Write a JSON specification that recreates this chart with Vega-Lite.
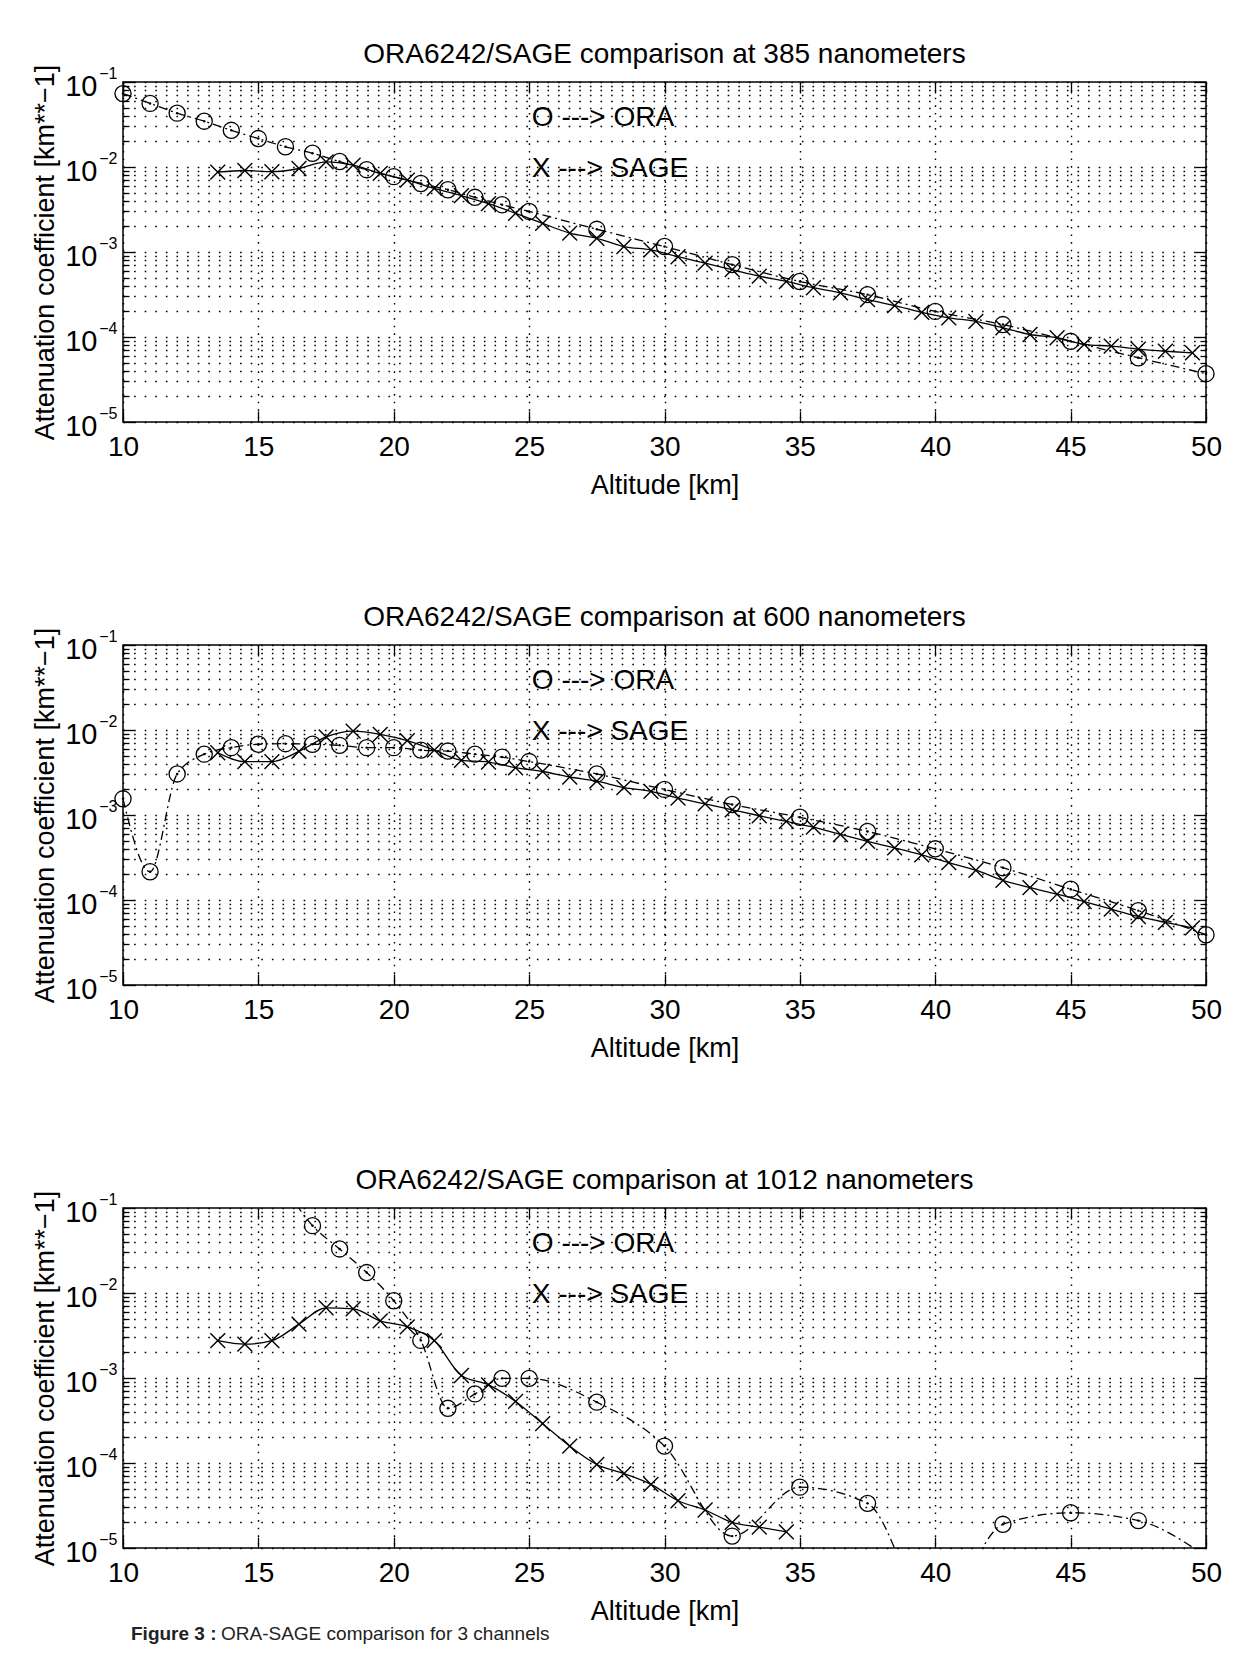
{
  "$schema": "https://vega.github.io/schema/vega-lite/v6.json",
  "background": "white",
  "padding": {"left": 30, "top": 40, "right": 10, "bottom": 5},
  "config": {
    "font": "Liberation Sans",
    "view": {"stroke": "black", "strokeWidth": 1.5},
    "axis": {"labelFont": "Liberation Sans", "titleFont": "Liberation Sans"}
  },
  "datasets": {
    "ora": [
      {"wl":385,"alt":10,"k":0.073},{"wl":385,"alt":11,"k":0.056},{"wl":385,"alt":12,"k":0.043},{"wl":385,"alt":13,"k":0.0346},{"wl":385,"alt":14,"k":0.027},{"wl":385,"alt":15,"k":0.0216},{"wl":385,"alt":16,"k":0.0173},{"wl":385,"alt":17,"k":0.0145},{"wl":385,"alt":18,"k":0.0116},{"wl":385,"alt":19,"k":0.0093},{"wl":385,"alt":20,"k":0.0077},{"wl":385,"alt":21,"k":0.0064},{"wl":385,"alt":22,"k":0.0054},{"wl":385,"alt":23,"k":0.0044},{"wl":385,"alt":24,"k":0.0036},{"wl":385,"alt":25,"k":0.003},{"wl":385,"alt":27.5,"k":0.00185},{"wl":385,"alt":30,"k":0.00116},{"wl":385,"alt":32.5,"k":0.00071},{"wl":385,"alt":35,"k":0.00045},{"wl":385,"alt":37.5,"k":0.000315},{"wl":385,"alt":40,"k":0.0002},{"wl":385,"alt":42.5,"k":0.00014},{"wl":385,"alt":45,"k":0.000089},{"wl":385,"alt":47.5,"k":0.000057},{"wl":385,"alt":50,"k":0.000037},
      {"wl":600,"alt":10,"k":0.00155},{"wl":600,"alt":11,"k":0.000215},{"wl":600,"alt":12,"k":0.00304},{"wl":600,"alt":13,"k":0.0052},{"wl":600,"alt":14,"k":0.0062},{"wl":600,"alt":15,"k":0.0068},{"wl":600,"alt":16,"k":0.0069},{"wl":600,"alt":17,"k":0.0068},{"wl":600,"alt":18,"k":0.0066},{"wl":600,"alt":19,"k":0.0062},{"wl":600,"alt":20,"k":0.0062},{"wl":600,"alt":21,"k":0.0058},{"wl":600,"alt":22,"k":0.00565},{"wl":600,"alt":23,"k":0.0052},{"wl":600,"alt":24,"k":0.0048},{"wl":600,"alt":25,"k":0.00425},{"wl":600,"alt":27.5,"k":0.00304},{"wl":600,"alt":30,"k":0.002},{"wl":600,"alt":32.5,"k":0.00133},{"wl":600,"alt":35,"k":0.00094},{"wl":600,"alt":37.5,"k":0.00064},{"wl":600,"alt":40,"k":0.0004},{"wl":600,"alt":42.5,"k":0.00024},{"wl":600,"alt":45,"k":0.000134},{"wl":600,"alt":47.5,"k":0.000075},{"wl":600,"alt":50,"k":0.000039},
      {"wl":1012,"alt":16,"k":0.17},{"wl":1012,"alt":17,"k":0.062},{"wl":1012,"alt":18,"k":0.033},{"wl":1012,"alt":19,"k":0.0174},{"wl":1012,"alt":20,"k":0.0081},{"wl":1012,"alt":21,"k":0.00277},{"wl":1012,"alt":22,"k":0.00044},{"wl":1012,"alt":23,"k":0.00065},{"wl":1012,"alt":24,"k":0.00099},{"wl":1012,"alt":25,"k":0.00099},{"wl":1012,"alt":27.5,"k":0.00052},{"wl":1012,"alt":30,"k":0.000158},{"wl":1012,"alt":32.5,"k":0.0000138},{"wl":1012,"alt":35,"k":0.000052},{"wl":1012,"alt":37.5,"k":0.0000335},{"wl":1012,"alt":40,"k":0.0000015},{"wl":1012,"alt":42.5,"k":0.000019},{"wl":1012,"alt":45,"k":0.000026},{"wl":1012,"alt":47.5,"k":0.000021},{"wl":1012,"alt":50,"k":0.000008}
    ],
    "sage": [
      {"wl":385,"alt":13.5,"k":0.0087},{"wl":385,"alt":14.5,"k":0.0091},{"wl":385,"alt":15.5,"k":0.0088},{"wl":385,"alt":16.5,"k":0.0096},{"wl":385,"alt":17.5,"k":0.0115},{"wl":385,"alt":18.5,"k":0.0105},{"wl":385,"alt":19.5,"k":0.0084},{"wl":385,"alt":20.5,"k":0.007},{"wl":385,"alt":21.5,"k":0.0056},{"wl":385,"alt":22.5,"k":0.0046},{"wl":385,"alt":23.5,"k":0.0037},{"wl":385,"alt":24.5,"k":0.00285},{"wl":385,"alt":25.5,"k":0.00217},{"wl":385,"alt":26.5,"k":0.00167},{"wl":385,"alt":27.5,"k":0.00145},{"wl":385,"alt":28.5,"k":0.00116},{"wl":385,"alt":29.5,"k":0.00106},{"wl":385,"alt":30.5,"k":0.00088},{"wl":385,"alt":31.5,"k":0.00074},{"wl":385,"alt":32.5,"k":0.00062},{"wl":385,"alt":33.5,"k":0.00052},{"wl":385,"alt":34.5,"k":0.00045},{"wl":385,"alt":35.5,"k":0.00038},{"wl":385,"alt":36.5,"k":0.00033},{"wl":385,"alt":37.5,"k":0.000275},{"wl":385,"alt":38.5,"k":0.000234},{"wl":385,"alt":39.5,"k":0.000195},{"wl":385,"alt":40.5,"k":0.000168},{"wl":385,"alt":41.5,"k":0.000153},{"wl":385,"alt":42.5,"k":0.000128},{"wl":385,"alt":43.5,"k":0.000107},{"wl":385,"alt":44.5,"k":0.000098},{"wl":385,"alt":45.5,"k":0.000082},{"wl":385,"alt":46.5,"k":0.000078},{"wl":385,"alt":47.5,"k":0.000072},{"wl":385,"alt":48.5,"k":0.000068},{"wl":385,"alt":49.5,"k":0.000065},
      {"wl":600,"alt":13.5,"k":0.0054},{"wl":600,"alt":14.5,"k":0.00425},{"wl":600,"alt":15.5,"k":0.00425},{"wl":600,"alt":16.5,"k":0.0056},{"wl":600,"alt":17.5,"k":0.0083},{"wl":600,"alt":18.5,"k":0.0097},{"wl":600,"alt":19.5,"k":0.0089},{"wl":600,"alt":20.5,"k":0.0075},{"wl":600,"alt":21.5,"k":0.0058},{"wl":600,"alt":22.5,"k":0.0044},{"wl":600,"alt":23.5,"k":0.0042},{"wl":600,"alt":24.5,"k":0.0036},{"wl":600,"alt":25.5,"k":0.00325},{"wl":600,"alt":26.5,"k":0.0028},{"wl":600,"alt":27.5,"k":0.0025},{"wl":600,"alt":28.5,"k":0.0021},{"wl":600,"alt":29.5,"k":0.0019},{"wl":600,"alt":30.5,"k":0.00158},{"wl":600,"alt":31.5,"k":0.00135},{"wl":600,"alt":32.5,"k":0.00115},{"wl":600,"alt":33.5,"k":0.00098},{"wl":600,"alt":34.5,"k":0.00084},{"wl":600,"alt":35.5,"k":0.00072},{"wl":600,"alt":36.5,"k":0.00059},{"wl":600,"alt":37.5,"k":0.00049},{"wl":600,"alt":38.5,"k":0.00041},{"wl":600,"alt":39.5,"k":0.00034},{"wl":600,"alt":40.5,"k":0.000275},{"wl":600,"alt":41.5,"k":0.000224},{"wl":600,"alt":42.5,"k":0.00017},{"wl":600,"alt":43.5,"k":0.00014},{"wl":600,"alt":44.5,"k":0.000117},{"wl":600,"alt":45.5,"k":0.000096},{"wl":600,"alt":46.5,"k":0.000078},{"wl":600,"alt":47.5,"k":0.000064},{"wl":600,"alt":48.5,"k":0.0000545},{"wl":600,"alt":49.5,"k":0.000047},
      {"wl":1012,"alt":13.5,"k":0.00275},{"wl":1012,"alt":14.5,"k":0.0025},{"wl":1012,"alt":15.5,"k":0.00275},{"wl":1012,"alt":16.5,"k":0.0043},{"wl":1012,"alt":17.5,"k":0.0067},{"wl":1012,"alt":18.5,"k":0.0065},{"wl":1012,"alt":19.5,"k":0.0047},{"wl":1012,"alt":20.5,"k":0.004},{"wl":1012,"alt":21.5,"k":0.00275},{"wl":1012,"alt":22.5,"k":0.00107},{"wl":1012,"alt":23.5,"k":0.00083},{"wl":1012,"alt":24.5,"k":0.00053},{"wl":1012,"alt":25.5,"k":0.00029},{"wl":1012,"alt":26.5,"k":0.000158},{"wl":1012,"alt":27.5,"k":0.000096},{"wl":1012,"alt":28.5,"k":0.000075},{"wl":1012,"alt":29.5,"k":0.000056},{"wl":1012,"alt":30.5,"k":0.000036},{"wl":1012,"alt":31.5,"k":0.000028},{"wl":1012,"alt":32.5,"k":0.00002},{"wl":1012,"alt":33.5,"k":0.0000176},{"wl":1012,"alt":34.5,"k":0.0000155}
    ]
  },
  "vconcat": [
    {
      "spacing": 104,
      "vconcat": [
        {
          "title": {"text": "ORA6242/SAGE comparison at 385 nanometers", "fontSize": 28, "fontWeight": "normal", "color": "black", "frame": "group", "offset": -5},
          "width": 1083, "height": 340,
          "resolve": {"axis": {"x": "independent", "y": "independent"}},
          "layer": [
            {"data": {"name": "ora"}, "transform": [{"filter": "datum.wl == 385"}],
             "mark": {"type": "line", "interpolate": "monotone", "color": "black", "strokeWidth": 1.3, "strokeDash": [9, 4, 2, 4], "clip": true},
             "encoding": {
               "x": {"field": "alt", "type": "quantitative", "scale": {"domain": [10, 50], "nice": false, "zero": false},
                     "axis": {"orient": "bottom", "values": [10,15,20,25,30,35,40,45,50], "title": "Altitude [km]", "titleFontSize": 27, "titleFontWeight": "normal", "titleColor": "black", "titlePadding": 11, "labelFontSize": 28, "labelColor": "black", "labelPadding": 11, "labelFlush": false, "labelOverlap": false, "ticks": false, "domain": false, "grid": true, "gridColor": "black", "gridDash": [1.6, 6], "gridWidth": 1.4, "gridOpacity": 1}},
               "y": {"field": "k", "type": "quantitative", "scale": {"type": "log", "domain": [0.00001, 0.1], "nice": false},
                     "axis": {"orient": "left", "values": [0.00001, 0.0001, 0.001, 0.01, 0.1], "labelExpr": "'10'", "title": "Attenuation coefficient [km**−1]", "titleFontSize": 27, "titleFontWeight": "normal", "titleColor": "black", "titlePadding": 5, "labelFontSize": 29, "labelColor": "black", "labelPadding": 26, "labelOffset": 4, "labelOverlap": false, "ticks": false, "domain": false, "grid": true, "gridColor": "black", "gridDash": [1.6, 9], "gridWidth": 1.4, "gridOpacity": 1}}
             }},
            {"data": {"name": "ora"}, "transform": [{"filter": "datum.wl == 385 && datum.k >= 0.00001 && datum.k <= 0.1"}],
             "mark": {"type": "point", "shape": "circle", "filled": false, "size": 260, "strokeWidth": 1.3, "color": "black", "opacity": 1, "clip": false},
             "encoding": {
               "x": {"field": "alt", "type": "quantitative", "axis": {"orient": "top", "values": [10,15,20,25,30,35,40,45,50], "labels": false, "title": null, "grid": false, "domain": false, "ticks": true, "tickSize": -11, "tickColor": "black", "tickWidth": 1.3}},
               "y": {"field": "k", "type": "quantitative", "axis": {"orient": "left", "values": [0.00002,0.00003,0.00004,0.00005,0.00006,0.00007,0.00008,0.00009,0.0002,0.0003,0.0004,0.0005,0.0006,0.0007,0.0008,0.0009,0.002,0.003,0.004,0.005,0.006,0.007,0.008,0.009,0.02,0.03,0.04,0.05,0.06,0.07,0.08,0.09], "labels": false, "title": null, "domain": false, "grid": true, "gridColor": "black", "gridDash": [1.6, 9], "gridWidth": 1.4, "gridOpacity": 1, "ticks": true, "tickSize": -6, "tickColor": "black", "tickWidth": 1.3}}
             }},
            {"data": {"name": "ora"}, "transform": [{"filter": "datum.wl == 385 && datum.k >= 0.00001 && datum.k <= 0.1"}],
             "mark": {"type": "point", "shape": "circle", "filled": true, "size": 6, "color": "black", "opacity": 1, "clip": false},
             "encoding": {
               "x": {"field": "alt", "type": "quantitative", "axis": {"orient": "bottom", "values": [10,15,20,25,30,35,40,45,50], "labels": false, "title": null, "grid": false, "domain": false, "ticks": true, "tickSize": -11, "tickColor": "black", "tickWidth": 1.3}},
               "y": {"field": "k", "type": "quantitative", "axis": {"orient": "left", "values": [0.00001, 0.0001, 0.001, 0.01, 0.1], "labelExpr": "'−' + round(-log(datum.value)/LN10)", "labelFontSize": 16, "labelColor": "black", "labelPadding": 6, "labelOffset": -9, "labelOverlap": false, "ticks": false, "grid": false, "domain": false, "title": null}}
             }},
            {"data": {"name": "sage"}, "transform": [{"filter": "datum.wl == 385"}],
             "mark": {"type": "line", "interpolate": "monotone", "color": "black", "strokeWidth": 1.3, "clip": true},
             "encoding": {
               "x": {"field": "alt", "type": "quantitative", "axis": null},
               "y": {"field": "k", "type": "quantitative", "axis": {"orient": "right", "values": [0.00001, 0.0001, 0.001, 0.01, 0.1], "labels": false, "title": null, "grid": false, "domain": false, "ticks": true, "tickSize": -11, "tickColor": "black", "tickWidth": 1.3}}
             }},
            {"data": {"name": "sage"}, "transform": [{"filter": "datum.wl == 385"}],
             "mark": {"type": "point", "shape": "M-1,-1L1,1M-1,1L1,-1", "filled": false, "size": 220, "strokeWidth": 1.4, "color": "black", "opacity": 1, "clip": true},
             "encoding": {
               "x": {"field": "alt", "type": "quantitative", "axis": null},
               "y": {"field": "k", "type": "quantitative", "axis": {"orient": "right", "values": [0.00002,0.00003,0.00004,0.00005,0.00006,0.00007,0.00008,0.00009,0.0002,0.0003,0.0004,0.0005,0.0006,0.0007,0.0008,0.0009,0.002,0.003,0.004,0.005,0.006,0.007,0.008,0.009,0.02,0.03,0.04,0.05,0.06,0.07,0.08,0.09], "labels": false, "title": null, "grid": false, "domain": false, "ticks": true, "tickSize": -6, "tickColor": "black", "tickWidth": 1.3}}
             }},
            {"data": {"values": [{}]},
             "mark": {"type": "text", "text": "O ---> ORA", "align": "left", "baseline": "middle", "fontSize": 28, "color": "black"},
             "encoding": {
               "x": {"datum": 25.1, "type": "quantitative", "axis": null},
               "y": {"datum": 0.038, "type": "quantitative", "axis": {"orient": "left", "values": [0.00001, 0.0001, 0.001, 0.01, 0.1], "labels": false, "title": null, "grid": false, "domain": false, "ticks": true, "tickSize": -11, "tickColor": "black", "tickWidth": 1.3}}
             }},
            {"data": {"values": [{}]},
             "mark": {"type": "text", "text": "X ---> SAGE", "align": "left", "baseline": "middle", "fontSize": 28, "color": "black"},
             "encoding": {
               "x": {"datum": 25.1, "type": "quantitative", "axis": null},
               "y": {"datum": 0.0095, "type": "quantitative", "axis": null}
             }}
          ]
        },
        {
          "title": {"text": "ORA6242/SAGE comparison at 600 nanometers", "fontSize": 28, "fontWeight": "normal", "color": "black", "frame": "group", "offset": -5},
          "width": 1083, "height": 340,
          "resolve": {"axis": {"x": "independent", "y": "independent"}},
          "layer": [
            {"data": {"name": "ora"}, "transform": [{"filter": "datum.wl == 600"}],
             "mark": {"type": "line", "interpolate": "monotone", "color": "black", "strokeWidth": 1.3, "strokeDash": [9, 4, 2, 4], "clip": true},
             "encoding": {
               "x": {"field": "alt", "type": "quantitative", "scale": {"domain": [10, 50], "nice": false, "zero": false},
                     "axis": {"orient": "bottom", "values": [10,15,20,25,30,35,40,45,50], "title": "Altitude [km]", "titleFontSize": 27, "titleFontWeight": "normal", "titleColor": "black", "titlePadding": 11, "labelFontSize": 28, "labelColor": "black", "labelPadding": 11, "labelFlush": false, "labelOverlap": false, "ticks": false, "domain": false, "grid": true, "gridColor": "black", "gridDash": [1.6, 6], "gridWidth": 1.4, "gridOpacity": 1}},
               "y": {"field": "k", "type": "quantitative", "scale": {"type": "log", "domain": [0.00001, 0.1], "nice": false},
                     "axis": {"orient": "left", "values": [0.00001, 0.0001, 0.001, 0.01, 0.1], "labelExpr": "'10'", "title": "Attenuation coefficient [km**−1]", "titleFontSize": 27, "titleFontWeight": "normal", "titleColor": "black", "titlePadding": 5, "labelFontSize": 29, "labelColor": "black", "labelPadding": 26, "labelOffset": 4, "labelOverlap": false, "ticks": false, "domain": false, "grid": true, "gridColor": "black", "gridDash": [1.6, 9], "gridWidth": 1.4, "gridOpacity": 1}}
             }},
            {"data": {"name": "ora"}, "transform": [{"filter": "datum.wl == 600 && datum.k >= 0.00001 && datum.k <= 0.1"}],
             "mark": {"type": "point", "shape": "circle", "filled": false, "size": 260, "strokeWidth": 1.3, "color": "black", "opacity": 1, "clip": false},
             "encoding": {
               "x": {"field": "alt", "type": "quantitative", "axis": {"orient": "top", "values": [10,15,20,25,30,35,40,45,50], "labels": false, "title": null, "grid": false, "domain": false, "ticks": true, "tickSize": -11, "tickColor": "black", "tickWidth": 1.3}},
               "y": {"field": "k", "type": "quantitative", "axis": {"orient": "left", "values": [0.00002,0.00003,0.00004,0.00005,0.00006,0.00007,0.00008,0.00009,0.0002,0.0003,0.0004,0.0005,0.0006,0.0007,0.0008,0.0009,0.002,0.003,0.004,0.005,0.006,0.007,0.008,0.009,0.02,0.03,0.04,0.05,0.06,0.07,0.08,0.09], "labels": false, "title": null, "domain": false, "grid": true, "gridColor": "black", "gridDash": [1.6, 9], "gridWidth": 1.4, "gridOpacity": 1, "ticks": true, "tickSize": -6, "tickColor": "black", "tickWidth": 1.3}}
             }},
            {"data": {"name": "ora"}, "transform": [{"filter": "datum.wl == 600 && datum.k >= 0.00001 && datum.k <= 0.1"}],
             "mark": {"type": "point", "shape": "circle", "filled": true, "size": 6, "color": "black", "opacity": 1, "clip": false},
             "encoding": {
               "x": {"field": "alt", "type": "quantitative", "axis": {"orient": "bottom", "values": [10,15,20,25,30,35,40,45,50], "labels": false, "title": null, "grid": false, "domain": false, "ticks": true, "tickSize": -11, "tickColor": "black", "tickWidth": 1.3}},
               "y": {"field": "k", "type": "quantitative", "axis": {"orient": "left", "values": [0.00001, 0.0001, 0.001, 0.01, 0.1], "labelExpr": "'−' + round(-log(datum.value)/LN10)", "labelFontSize": 16, "labelColor": "black", "labelPadding": 6, "labelOffset": -9, "labelOverlap": false, "ticks": false, "grid": false, "domain": false, "title": null}}
             }},
            {"data": {"name": "sage"}, "transform": [{"filter": "datum.wl == 600"}],
             "mark": {"type": "line", "interpolate": "monotone", "color": "black", "strokeWidth": 1.3, "clip": true},
             "encoding": {
               "x": {"field": "alt", "type": "quantitative", "axis": null},
               "y": {"field": "k", "type": "quantitative", "axis": {"orient": "right", "values": [0.00001, 0.0001, 0.001, 0.01, 0.1], "labels": false, "title": null, "grid": false, "domain": false, "ticks": true, "tickSize": -11, "tickColor": "black", "tickWidth": 1.3}}
             }},
            {"data": {"name": "sage"}, "transform": [{"filter": "datum.wl == 600"}],
             "mark": {"type": "point", "shape": "M-1,-1L1,1M-1,1L1,-1", "filled": false, "size": 220, "strokeWidth": 1.4, "color": "black", "opacity": 1, "clip": true},
             "encoding": {
               "x": {"field": "alt", "type": "quantitative", "axis": null},
               "y": {"field": "k", "type": "quantitative", "axis": {"orient": "right", "values": [0.00002,0.00003,0.00004,0.00005,0.00006,0.00007,0.00008,0.00009,0.0002,0.0003,0.0004,0.0005,0.0006,0.0007,0.0008,0.0009,0.002,0.003,0.004,0.005,0.006,0.007,0.008,0.009,0.02,0.03,0.04,0.05,0.06,0.07,0.08,0.09], "labels": false, "title": null, "grid": false, "domain": false, "ticks": true, "tickSize": -6, "tickColor": "black", "tickWidth": 1.3}}
             }},
            {"data": {"values": [{}]},
             "mark": {"type": "text", "text": "O ---> ORA", "align": "left", "baseline": "middle", "fontSize": 28, "color": "black"},
             "encoding": {
               "x": {"datum": 25.1, "type": "quantitative", "axis": null},
               "y": {"datum": 0.038, "type": "quantitative", "axis": {"orient": "left", "values": [0.00001, 0.0001, 0.001, 0.01, 0.1], "labels": false, "title": null, "grid": false, "domain": false, "ticks": true, "tickSize": -11, "tickColor": "black", "tickWidth": 1.3}}
             }},
            {"data": {"values": [{}]},
             "mark": {"type": "text", "text": "X ---> SAGE", "align": "left", "baseline": "middle", "fontSize": 28, "color": "black"},
             "encoding": {
               "x": {"datum": 25.1, "type": "quantitative", "axis": null},
               "y": {"datum": 0.0095, "type": "quantitative", "axis": null}
             }}
          ]
        },
        {
          "title": {"text": "ORA6242/SAGE comparison at 1012 nanometers", "fontSize": 28, "fontWeight": "normal", "color": "black", "frame": "group", "offset": -5},
          "width": 1083, "height": 340,
          "resolve": {"axis": {"x": "independent", "y": "independent"}},
          "layer": [
            {"data": {"name": "ora"}, "transform": [{"filter": "datum.wl == 1012"}],
             "mark": {"type": "line", "interpolate": "monotone", "color": "black", "strokeWidth": 1.3, "strokeDash": [9, 4, 2, 4], "clip": true},
             "encoding": {
               "x": {"field": "alt", "type": "quantitative", "scale": {"domain": [10, 50], "nice": false, "zero": false},
                     "axis": {"orient": "bottom", "values": [10,15,20,25,30,35,40,45,50], "title": "Altitude [km]", "titleFontSize": 27, "titleFontWeight": "normal", "titleColor": "black", "titlePadding": 11, "labelFontSize": 28, "labelColor": "black", "labelPadding": 11, "labelFlush": false, "labelOverlap": false, "ticks": false, "domain": false, "grid": true, "gridColor": "black", "gridDash": [1.6, 6], "gridWidth": 1.4, "gridOpacity": 1}},
               "y": {"field": "k", "type": "quantitative", "scale": {"type": "log", "domain": [0.00001, 0.1], "nice": false},
                     "axis": {"orient": "left", "values": [0.00001, 0.0001, 0.001, 0.01, 0.1], "labelExpr": "'10'", "title": "Attenuation coefficient [km**−1]", "titleFontSize": 27, "titleFontWeight": "normal", "titleColor": "black", "titlePadding": 5, "labelFontSize": 29, "labelColor": "black", "labelPadding": 26, "labelOffset": 4, "labelOverlap": false, "ticks": false, "domain": false, "grid": true, "gridColor": "black", "gridDash": [1.6, 9], "gridWidth": 1.4, "gridOpacity": 1}}
             }},
            {"data": {"name": "ora"}, "transform": [{"filter": "datum.wl == 1012 && datum.k >= 0.00001 && datum.k <= 0.1"}],
             "mark": {"type": "point", "shape": "circle", "filled": false, "size": 260, "strokeWidth": 1.3, "color": "black", "opacity": 1, "clip": false},
             "encoding": {
               "x": {"field": "alt", "type": "quantitative", "axis": {"orient": "top", "values": [10,15,20,25,30,35,40,45,50], "labels": false, "title": null, "grid": false, "domain": false, "ticks": true, "tickSize": -11, "tickColor": "black", "tickWidth": 1.3}},
               "y": {"field": "k", "type": "quantitative", "axis": {"orient": "left", "values": [0.00002,0.00003,0.00004,0.00005,0.00006,0.00007,0.00008,0.00009,0.0002,0.0003,0.0004,0.0005,0.0006,0.0007,0.0008,0.0009,0.002,0.003,0.004,0.005,0.006,0.007,0.008,0.009,0.02,0.03,0.04,0.05,0.06,0.07,0.08,0.09], "labels": false, "title": null, "domain": false, "grid": true, "gridColor": "black", "gridDash": [1.6, 9], "gridWidth": 1.4, "gridOpacity": 1, "ticks": true, "tickSize": -6, "tickColor": "black", "tickWidth": 1.3}}
             }},
            {"data": {"name": "ora"}, "transform": [{"filter": "datum.wl == 1012 && datum.k >= 0.00001 && datum.k <= 0.1"}],
             "mark": {"type": "point", "shape": "circle", "filled": true, "size": 6, "color": "black", "opacity": 1, "clip": false},
             "encoding": {
               "x": {"field": "alt", "type": "quantitative", "axis": {"orient": "bottom", "values": [10,15,20,25,30,35,40,45,50], "labels": false, "title": null, "grid": false, "domain": false, "ticks": true, "tickSize": -11, "tickColor": "black", "tickWidth": 1.3}},
               "y": {"field": "k", "type": "quantitative", "axis": {"orient": "left", "values": [0.00001, 0.0001, 0.001, 0.01, 0.1], "labelExpr": "'−' + round(-log(datum.value)/LN10)", "labelFontSize": 16, "labelColor": "black", "labelPadding": 6, "labelOffset": -9, "labelOverlap": false, "ticks": false, "grid": false, "domain": false, "title": null}}
             }},
            {"data": {"name": "sage"}, "transform": [{"filter": "datum.wl == 1012"}],
             "mark": {"type": "line", "interpolate": "monotone", "color": "black", "strokeWidth": 1.3, "clip": true},
             "encoding": {
               "x": {"field": "alt", "type": "quantitative", "axis": null},
               "y": {"field": "k", "type": "quantitative", "axis": {"orient": "right", "values": [0.00001, 0.0001, 0.001, 0.01, 0.1], "labels": false, "title": null, "grid": false, "domain": false, "ticks": true, "tickSize": -11, "tickColor": "black", "tickWidth": 1.3}}
             }},
            {"data": {"name": "sage"}, "transform": [{"filter": "datum.wl == 1012"}],
             "mark": {"type": "point", "shape": "M-1,-1L1,1M-1,1L1,-1", "filled": false, "size": 220, "strokeWidth": 1.4, "color": "black", "opacity": 1, "clip": true},
             "encoding": {
               "x": {"field": "alt", "type": "quantitative", "axis": null},
               "y": {"field": "k", "type": "quantitative", "axis": {"orient": "right", "values": [0.00002,0.00003,0.00004,0.00005,0.00006,0.00007,0.00008,0.00009,0.0002,0.0003,0.0004,0.0005,0.0006,0.0007,0.0008,0.0009,0.002,0.003,0.004,0.005,0.006,0.007,0.008,0.009,0.02,0.03,0.04,0.05,0.06,0.07,0.08,0.09], "labels": false, "title": null, "grid": false, "domain": false, "ticks": true, "tickSize": -6, "tickColor": "black", "tickWidth": 1.3}}
             }},
            {"data": {"values": [{}]},
             "mark": {"type": "text", "text": "O ---> ORA", "align": "left", "baseline": "middle", "fontSize": 28, "color": "black"},
             "encoding": {
               "x": {"datum": 25.1, "type": "quantitative", "axis": null},
               "y": {"datum": 0.038, "type": "quantitative", "axis": {"orient": "left", "values": [0.00001, 0.0001, 0.001, 0.01, 0.1], "labels": false, "title": null, "grid": false, "domain": false, "ticks": true, "tickSize": -11, "tickColor": "black", "tickWidth": 1.3}}
             }},
            {"data": {"values": [{}]},
             "mark": {"type": "text", "text": "X ---> SAGE", "align": "left", "baseline": "middle", "fontSize": 28, "color": "black"},
             "encoding": {
               "x": {"datum": 25.1, "type": "quantitative", "axis": null},
               "y": {"datum": 0.0095, "type": "quantitative", "axis": null}
             }}
          ]
        }
      ]
    },
    {
      "width": 600, "height": 20,
      "view": {"stroke": null},
      "data": {"values": [{}]},
      "layer": [
        {"mark": {"type": "text", "text": "Figure 3 :", "fontWeight": "bold", "fontSize": 19, "align": "left", "baseline": "top", "color": "#222", "dx": 8, "dy": -7},
         "encoding": {"x": {"datum": 0, "type": "quantitative", "scale": {"domain": [0, 1]}, "axis": null}, "y": {"datum": 1, "type": "quantitative", "scale": {"domain": [0, 1]}, "axis": null}}},
        {"mark": {"type": "text", "text": "ORA-SAGE comparison for 3 channels", "fontSize": 19, "align": "left", "baseline": "top", "color": "#222", "dx": 98, "dy": -7},
         "encoding": {"x": {"datum": 0, "type": "quantitative", "axis": null}, "y": {"datum": 1, "type": "quantitative", "axis": null}}}
      ]
    }
  ],
  "spacing": 0
}
